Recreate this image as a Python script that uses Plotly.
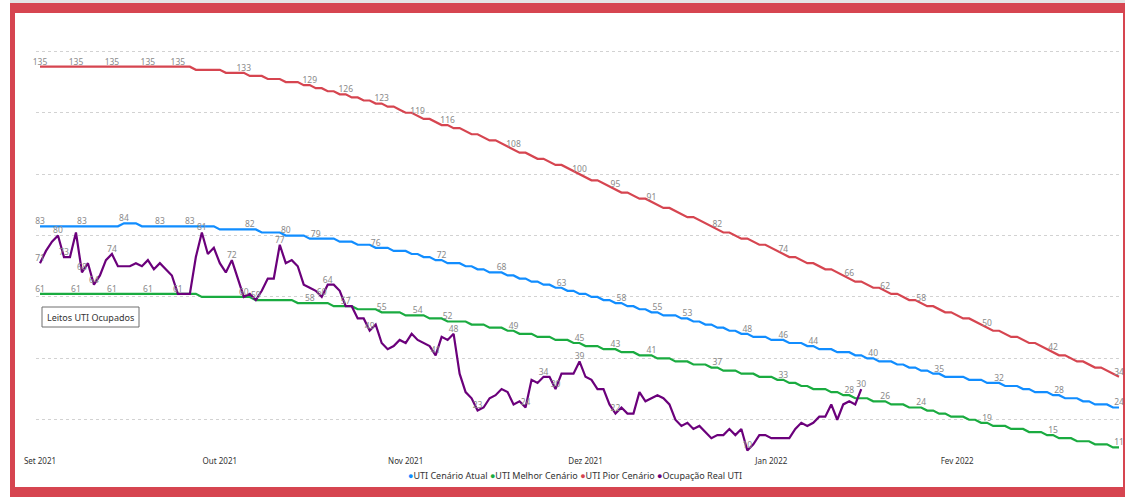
import plotly.graph_objects as go
import pandas as pd

# ---------------- data (daily values, 1 Sep 2021 -> 28 Feb 2022) ----------------
start_date = "2021-09-01"
end_date = "2022-02-28"

uti_atual = [
    83, 83, 83, 83, 83, 83, 83, 83, 83, 83,
    83, 83, 83, 83, 84, 84, 84, 83, 83, 83,
    83, 83, 83, 83, 83, 83, 83, 83, 83, 83,
    82, 82, 82, 82, 82, 82, 82, 81, 81, 81,
    81, 80, 80, 80, 80, 79, 79, 79, 79, 79,
    78, 78, 78, 77, 77, 77, 76, 76, 76, 75,
    75, 75, 74, 74, 73, 73, 72, 72, 71, 71,
    71, 70, 70, 69, 69, 68, 68, 68, 67, 67,
    66, 66, 65, 65, 64, 64, 63, 63, 62, 62,
    61, 61, 60, 60, 59, 59, 58, 58, 57, 57,
    56, 56, 55, 55, 54, 54, 54, 53, 53, 52,
    52, 51, 51, 50, 50, 49, 49, 48, 48, 47,
    47, 47, 46, 46, 46, 45, 45, 45, 44, 44,
    43, 43, 43, 42, 42, 42, 41, 41, 40, 40,
    39, 39, 39, 38, 38, 37, 37, 36, 36, 35,
    35, 34, 34, 34, 34, 33, 33, 33, 32, 32,
    32, 31, 31, 31, 30, 30, 29, 29, 29, 28,
    28, 27, 27, 27, 26, 26, 25, 25, 25, 24,
    24,
]

uti_melhor = [
    61, 61, 61, 61, 61, 61, 61, 61, 61, 61,
    61, 61, 61, 61, 61, 61, 61, 61, 61, 61,
    61, 61, 61, 61, 61, 61, 61, 60, 60, 60,
    60, 60, 60, 60, 60, 60, 59, 59, 59, 59,
    59, 59, 59, 58, 58, 58, 58, 58, 58, 57,
    57, 57, 57, 56, 56, 56, 56, 55, 55, 55,
    55, 54, 54, 54, 54, 53, 53, 53, 52, 52,
    52, 52, 51, 51, 51, 50, 50, 50, 49, 49,
    48, 48, 48, 47, 47, 47, 46, 46, 46, 45,
    45, 44, 44, 44, 43, 43, 43, 42, 42, 42,
    41, 41, 41, 40, 40, 40, 39, 39, 39, 38,
    38, 38, 37, 37, 36, 36, 36, 35, 35, 35,
    34, 34, 34, 33, 33, 32, 32, 31, 31, 30,
    30, 30, 29, 29, 28, 28, 27, 27, 27, 26,
    26, 26, 25, 25, 25, 24, 24, 24, 23, 23,
    22, 22, 21, 21, 21, 20, 20, 19, 19, 18,
    18, 18, 17, 17, 17, 16, 16, 16, 15, 15,
    14, 14, 14, 13, 13, 13, 12, 12, 12, 11,
    11,
]

uti_pior = [
    135, 135, 135, 135, 135, 135, 135, 135, 135, 135,
    135, 135, 135, 135, 135, 135, 135, 135, 135, 135,
    135, 135, 135, 135, 135, 135, 134, 134, 134, 134,
    134, 133, 133, 133, 133, 132, 132, 132, 131, 131,
    131, 130, 130, 130, 129, 129, 128, 128, 127, 127,
    126, 126, 125, 125, 124, 124, 123, 123, 122, 122,
    121, 120, 120, 119, 118, 118, 117, 116, 116, 115,
    115, 114, 113, 113, 112, 111, 111, 110, 109, 108,
    107, 107, 106, 105, 105, 104, 103, 103, 102, 101,
    100, 99, 98, 98, 97, 96, 95, 94, 94, 93,
    92, 92, 91, 90, 89, 89, 88, 87, 86, 86,
    85, 84, 83, 82, 81, 81, 80, 79, 79, 78,
    77, 77, 76, 75, 74, 73, 73, 72, 71, 71,
    70, 69, 69, 68, 67, 66, 65, 65, 64, 63,
    63, 62, 61, 61, 60, 59, 59, 58, 57, 57,
    56, 55, 55, 54, 53, 53, 52, 51, 50, 49,
    49, 48, 47, 47, 46, 45, 45, 44, 43, 42,
    41, 41, 40, 39, 39, 38, 37, 37, 36, 35,
    34,
]

ocupacao_real = [
    71, 75, 78, 80, 73, 73, 81, 68, 71, 64,
    67, 72, 74, 70, 70, 70, 71, 70, 72, 69,
    71, 69, 67, 61, 61, 61, 73, 81, 74, 76,
    71, 68, 72, 66, 60, 61, 59, 62, 66, 66,
    77, 71, 72, 70, 64, 63, 62, 60, 64, 64,
    62, 57, 57, 53, 53, 49, 51, 45, 43, 44,
    46, 45, 48, 46, 45, 44, 41, 47, 46, 48,
    35, 29, 27, 23, 24, 27, 28, 30, 29, 25,
    26, 24, 33, 32, 34, 34, 30, 35, 35, 35,
    39, 34, 33, 30, 30, 25, 22, 24, 22, 22,
    29, 26, 27, 28, 27, 25, 20, 18, 19, 17,
    18, 16, 14, 15, 15, 17, 15, 17, 10, 12,
    15, 15, 14, 14, 14, 14, 17, 19, 18, 19,
    21, 21, 25, 20, 25, 26, 25, 30,
]

# indices (days since 1 Sep 2021) that carry a data label
lbl_atual = [0, 7, 14, 20, 25, 35, 41, 46, 56, 67, 77, 87, 97, 103, 108, 118,
             124, 129, 139, 150, 160, 170, 180]
lbl_melhor = [0, 6, 12, 18, 45, 57, 63, 68, 79, 90, 96, 102, 113, 124, 135,
              141, 147, 158, 169, 180]
lbl_pior = [0, 6, 12, 18, 23, 34, 45, 51, 57, 63, 68, 79, 90, 96, 102, 113,
            124, 135, 141, 147, 158, 169, 180]
lbl_real = [0, 3, 4, 7, 9, 12, 23, 27, 32, 34, 36, 40, 47, 48, 51, 55, 66, 69,
            73, 81, 84, 86, 90, 96, 118, 137]

tick_dates = ["2021-09-01", "2021-10-01", "2021-11-01", "2021-12-01",
              "2022-01-01", "2022-02-01"]
tick_labels = ["Set 2021", "Out 2021", "Nov 2021", "Dez 2021", "Jan 2022",
               "Fev 2022"]

series_names = ["UTI Cenário Atual", "UTI Melhor Cenário", "UTI Pior Cenário",
                "Ocupação Real UTI"]
series_colors = ["#118DFF", "#1AAB40", "#D64550", "#6B007B"]

# ---------------- figure ----------------
dates = pd.date_range(start_date, end_date, freq="D")
FONT = "Segoe UI, Noto Sans, Open Sans, sans-serif"

W, H = 1125, 497
L, R, T, B = 36, 3, 40, 45          # plot area: x 36..1122, y 40..452
pw, ph = W - L - R, H - T - B


def px_x(X):
    return (X - L) / pw


def px_y(Y):
    return (H - B - Y) / ph


fig = go.Figure()

all_series = [uti_atual, uti_melhor, uti_pior, ocupacao_real]
all_labels = [lbl_atual, lbl_melhor, lbl_pior, lbl_real]

for name, vals, color, lbl in zip(series_names, all_series, series_colors, all_labels):
    lblset = set(lbl)
    text = [str(v) if i in lblset else "" for i, v in enumerate(vals)]
    fig.add_trace(go.Scatter(
        x=dates[:len(vals)], y=vals, mode="lines+text", text=text,
        textposition="top center",
        textfont=dict(size=8.5, color="#8a8a8a", family=FONT),
        line=dict(color=color, width=2.2), name=name, showlegend=False,
        cliponaxis=False, hoverinfo="x+y+name",
    ))

# legend (Power BI style: round dots tightly followed by the series name)
legend_text = " ".join(
    f'<span style="color:{c}">●</span>{n}' for n, c in zip(series_names, series_colors)
)

shapes = [
    # light top strip
    dict(type="rect", xref="paper", yref="paper", layer="below",
         x0=px_x(10), x1=px_x(1125), y0=px_y(3), y1=px_y(0),
         fillcolor="#e4e4e4", line=dict(width=0)),
    # red frame
    dict(type="rect", xref="paper", yref="paper", layer="below",
         x0=px_x(10), x1=px_x(1125), y0=px_y(497), y1=px_y(3),
         fillcolor="#D64550", line=dict(width=0)),
    # inner white canvas
    dict(type="rect", xref="paper", yref="paper", layer="below",
         x0=px_x(15), x1=px_x(1123), y0=px_y(487), y1=px_y(13),
         fillcolor="white", line=dict(width=0)),
    # text box
    dict(type="rect", xref="paper", yref="paper", layer="above",
         x0=px_x(42), x1=px_x(139), y0=px_y(327), y1=px_y(307),
         fillcolor="white", line=dict(color="#6e6e6e", width=1)),
]

fig.update_layout(
    width=W, height=H,
    margin=dict(l=L, r=R, t=T, b=B, pad=0),
    paper_bgcolor="white", plot_bgcolor="rgba(0,0,0,0)",
    font=dict(family=FONT, size=9, color="#333333"),
    shapes=shapes,
    showlegend=False,
    annotations=[
        dict(xref="paper", yref="paper", x=px_x(90.5), y=px_y(317),
             text="Leitos UTI Ocupados", showarrow=False,
             font=dict(size=9, color="#333333", family=FONT),
             xanchor="center", yanchor="middle"),
        dict(xref="paper", yref="paper", x=px_x(575), y=px_y(475),
             text=legend_text, showarrow=False,
             font=dict(size=9, color="#333333", family=FONT),
             xanchor="center", yanchor="middle"),
    ],
    xaxis=dict(
        range=["2021-08-31 08:00", "2022-02-28 12:00"],
        tickmode="array", tickvals=tick_dates, ticktext=tick_labels,
        showgrid=False, zeroline=False, showline=False, ticks="",
        ticklabelstandoff=3,
        tickfont=dict(size=8, color="#333333", family=FONT),
    ),
    yaxis=dict(
        range=[9.5, 143.7], dtick=20, tick0=0, showticklabels=False,
        showgrid=True, gridcolor="#d2d2d2", gridwidth=1, griddash="dot",
        zeroline=False, showline=False, ticks="",
    ),
)

fig.write_html("out.html")
